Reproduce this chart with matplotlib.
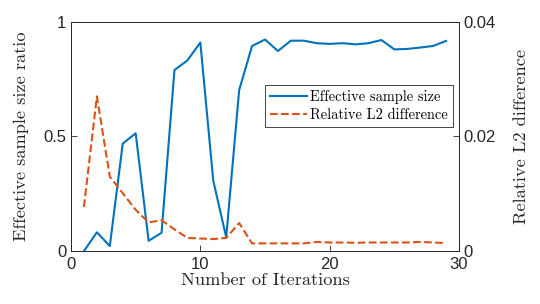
import matplotlib
matplotlib.use("Agg")
import matplotlib.pyplot as plt

iterations = list(range(1, 30))
ess_ratio = [0.0, 0.082, 0.022, 0.469, 0.514, 0.045, 0.08, 0.79, 0.832, 0.91,
             0.307, 0.06, 0.702, 0.895, 0.923, 0.873, 0.918, 0.918, 0.907, 0.904,
             0.907, 0.902, 0.907, 0.921, 0.880, 0.882, 0.888, 0.895, 0.917]
rel_l2 = [0.0077, 0.0270, 0.0130, 0.0101, 0.0072, 0.0050, 0.0054, 0.0038, 0.0023, 0.0022,
          0.0021, 0.0023, 0.0049, 0.00135, 0.00135, 0.00135, 0.00135, 0.00135, 0.0016, 0.0015,
          0.0015, 0.00145, 0.0015, 0.0015, 0.0015, 0.0015, 0.0016, 0.0015, 0.0014]

blue = '#0072BD'
red = '#D95319'
label_font = dict(family='cmr10', size=13.2, color='#262626')
tick_font = 'Liberation Sans'

fig = plt.figure(figsize=(5.4, 3.04), dpi=100)
ax = fig.add_axes([0.1315, 0.174, 0.7185, 0.754])
ax2 = ax.twinx()

l1, = ax.plot(iterations, ess_ratio, color=blue, lw=1.5, label='Effective sample size')
l2, = ax2.plot(iterations, rel_l2, color=red, lw=1.5, ls='--', label='Relative L2 difference')

ax.set_xlim(0, 30)
ax.set_ylim(0, 1)
ax2.set_ylim(0, 0.04)
ax.set_xticks([0, 10, 20, 30])
ax.set_yticks([0, 0.5, 1])
ax.set_yticklabels(['0', '0.5', '1'])
ax2.set_yticks([0, 0.02, 0.04])
ax2.set_yticklabels(['0', '0.02', '0.04'])

for a in (ax, ax2):
    a.tick_params(direction='in', length=4, width=0.6, colors='#262626', labelsize=12)
    for lab in a.get_xticklabels() + a.get_yticklabels():
        lab.set_family(tick_font)
    for s in a.spines.values():
        s.set_linewidth(0.6)
        s.set_color('#262626')
ax.tick_params(axis='x', pad=4)
ax2.tick_params(axis='y', pad=3)

ax.set_xlabel('Number of Iterations', fontdict=label_font, labelpad=1)
ax.set_ylabel('Effective sample size ratio', fontdict=label_font, labelpad=10)
ax2.set_ylabel('Relative L2 difference', fontdict=label_font, labelpad=13)

leg = ax.legend(handles=[l1, l2], loc='upper right', bbox_to_anchor=(0.985, 0.725),
                prop=dict(family='cmr10', size=10.4), fancybox=False, framealpha=1,
                edgecolor='#262626', borderpad=0.35, handlelength=2.6, handletextpad=0.2,
                labelspacing=0.3, borderaxespad=0)
leg.get_frame().set_linewidth(0.6)

fig.savefig('out.png', dpi=100)
